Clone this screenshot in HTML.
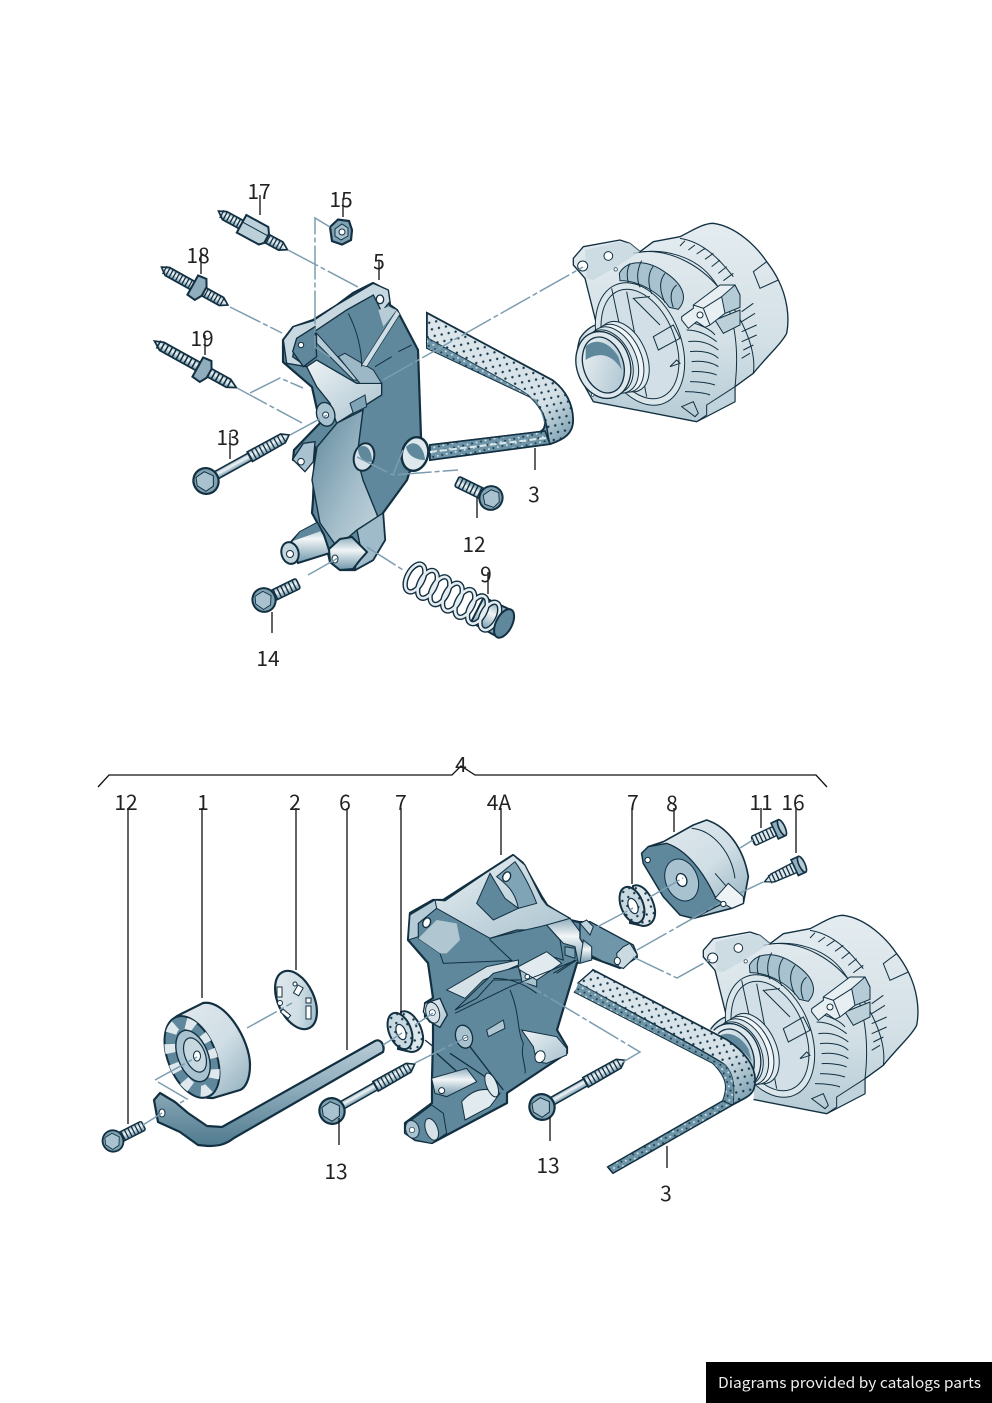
<!DOCTYPE html>
<html><head><meta charset="utf-8"><title>Diagram</title>
<style>
html,body{margin:0;padding:0;background:#fff}
svg{display:block}
.lb{font-family:"Noto Sans CJK JP","Liberation Sans",sans-serif;font-size:21px;fill:#222;text-anchor:middle}
.k{stroke:#111;stroke-width:1.3;fill:none}
.l{stroke:#7c9db0;stroke-width:1.5;fill:none;stroke-dasharray:34 3 5 3}
</style></head><body>
<svg xmlns="http://www.w3.org/2000/svg" width="992" height="1403" viewBox="0 0 992 1403">
<defs>
<linearGradient id="sh" x1="0" y1="0" x2="0" y2="1"><stop offset="0" stop-color="#8fadbc"/><stop offset=".4" stop-color="#f2f6f7"/><stop offset="1" stop-color="#6f96a9"/></linearGradient>
<linearGradient id="lg" x1="0" y1="0" x2="1" y2="1"><stop offset="0" stop-color="#eef3f5"/><stop offset="1" stop-color="#a9c2cf"/></linearGradient>
<linearGradient id="alt" x1="0" y1="0" x2="0" y2="1"><stop offset="0" stop-color="#e4ecf0"/><stop offset=".6" stop-color="#d3e0e6"/><stop offset="1" stop-color="#b6cbd5"/></linearGradient>
<linearGradient id="md" x1="0" y1="0" x2="1" y2="1"><stop offset="0" stop-color="#5f889c"/><stop offset=".6" stop-color="#a3bdca"/><stop offset="1" stop-color="#c6d6de"/></linearGradient>
<linearGradient id="pl" x1="0" y1="0" x2="1" y2="1"><stop offset="0" stop-color="#e3ebef"/><stop offset=".55" stop-color="#d0dee5"/><stop offset="1" stop-color="#8eaebd"/></linearGradient>
<linearGradient id="rod" x1="0" y1="0" x2="0" y2="1"><stop offset="0" stop-color="#b9cdd7"/><stop offset=".45" stop-color="#8fadbc"/><stop offset="1" stop-color="#4f7a8e"/></linearGradient>
<linearGradient id="bl" x1="0" y1="0" x2="1" y2="1"><stop offset="0" stop-color="#dde7ec"/><stop offset=".75" stop-color="#d5e1e7"/><stop offset="1" stop-color="#6e95a8"/></linearGradient>
<pattern id="dots" width="11" height="9" patternUnits="userSpaceOnUse" patternTransform="rotate(28)"><circle cx="2.5" cy="2.5" r="1.2" fill="#16384a"/><circle cx="8" cy="7" r="1.2" fill="#16384a"/></pattern>
<pattern id="dots2" width="7" height="6" patternUnits="userSpaceOnUse" patternTransform="rotate(28)"><rect width="7" height="6" fill="#6c93a6"/><circle cx="2" cy="2" r="1" fill="#173b4d"/><circle cx="5.5" cy="5" r="1" fill="#d6e2e8"/></pattern>

<g id="hex">
<ellipse cx="0" cy="0" rx="12.5" ry="13" fill="#7fa2b3" stroke="#123041" stroke-width="2.2"/>
<polygon points="-7,-8 3,-9 9,-1 4,8 -5,9 -10,0" fill="#a9c2cf" stroke="#123041" stroke-width="1"/>
</g>
<g id="bolt13">
<rect x="8" y="-4" width="44" height="8" fill="url(#sh)" stroke="#123041" stroke-width="1.6"/>
<polygon points="50,-5.5 88,-5 95,0 88,5 50,5.5" fill="url(#sh)" stroke="#123041" stroke-width="1.6"/>
<line x1="50" y1="0" x2="90" y2="0" stroke="#123041" stroke-width="10" stroke-dasharray="1.3 2.9"/>
<use href="#hex"/>
</g>
<g id="boltS">
<rect x="8" y="-5.5" width="30" height="11" rx="2" fill="url(#sh)" stroke="#123041" stroke-width="1.6"/>
<line x1="12" y1="0" x2="38" y2="0" stroke="#123041" stroke-width="10.5" stroke-dasharray="1.4 2.8"/>
<use href="#hex" transform="scale(.92)"/>
</g>
<g id="stud">
<polygon points="0,-1 8,-4.6 76,-4.6 84,0 76,4.6 8,4.6" fill="url(#sh)" stroke="#123041" stroke-width="1.7"/>
<line x1="4" y1="0" x2="80" y2="0" stroke="#123041" stroke-width="9" stroke-dasharray="1.4 2.6"/>
</g>
<g id="ring">
<path d="M-3,-20 C6,-24 17,-10 19,4 C20,15 14,20 7,20 L-6,17 Z" fill="#dce6eb" stroke="#123041" stroke-width="2"/>
<path d="M-3,-20 C6,-24 17,-10 19,4 C20,15 14,20 7,20 L-6,17 Z" fill="url(#dots)"/>
<ellipse cx="-4" cy="-1" rx="11" ry="19" transform="rotate(-22 -4 -1)" fill="#c8d8e0" stroke="#123041" stroke-width="2"/>
<ellipse cx="-4" cy="-1" rx="11" ry="19" transform="rotate(-22 -4 -1)" fill="url(#dots)"/>
<ellipse cx="-3" cy="0" rx="4.5" ry="8" transform="rotate(-22 -3 0)" fill="#fff" stroke="#123041" stroke-width="1.2"/>
</g>

<g id="alternator" transform="translate(420,210) scale(.33333)">
<path d="M460 145 L490 110 L600 90 L630 100 L660 125 L700 95 L780 80 C820 60 850 40 880 40 C950 50 1010 110 1040 155 C1060 180 1075 210 1075 210 C1100 260 1110 320 1100 370 C1085 400 1040 440 1000 490 L945 530 L945 575 L830 635 L520 575 L495 530 C470 480 465 430 480 385 C495 360 520 345 530 345 L495 205 L460 165 Z" fill="url(#alt)" stroke="#123041" stroke-width="4" stroke-linejoin="round"/>
<path d="M1040 155 L1000 185 L1020 235 L1075 210" fill="none" stroke="#123041" stroke-width="3"/>
<path d="M670 125 C760 120 850 170 910 250 C970 330 1010 420 1000 490" fill="none" stroke="#123041" stroke-width="3"/>
<path d="M640 130 C730 110 830 140 880 210 C940 290 960 400 945 530" fill="none" stroke="#123041" stroke-width="3"/>
<path d="M780 85 C850 95 900 150 940 200 M920 170 L895 190 M900 150 L875 170 M880 130 L855 148 M855 115 L830 132 M825 105 L805 120 M795 92 L780 108 M940 190 L910 212 M1005 310 L965 335 M1010 345 L965 365 M1010 375 L965 395 M1000 405 L970 420 M990 430 L965 445 M1000 280 L965 305" fill="none" stroke="#123041" stroke-width="3"/>
<ellipse cx="660" cy="402" rx="122" ry="192" transform="rotate(-22 660 402)" fill="#dbe6eb" stroke="#123041" stroke-width="3"/>
<path d="M598 190 C620 150 680 145 740 190 C790 225 805 265 775 298 L748 292 C720 250 660 212 600 212 Z" fill="#a8c2cf" stroke="#123041" stroke-width="3"/>
<path d="M630 160 C620 180 620 200 625 218 M665 152 C650 180 650 210 660 232 M700 168 C680 195 685 225 695 252 M735 190 C715 215 720 245 735 278 M770 225 C750 240 750 265 760 292" fill="none" stroke="#123041" stroke-width="3"/>
<ellipse cx="660" cy="402" rx="105" ry="172" transform="rotate(-22 660 402)" fill="#d2dfe6" stroke="#123041" stroke-width="3"/>
<path d="M575 235 L640 540 M620 245 L680 560 M700 380 L760 345 L780 385 L715 420 Z M690 260 L640 265 L720 345 M770 450 L750 470 L780 460 Z" fill="none" stroke="#123041" stroke-width="3"/>
<path d="M790 330 C830 340 870 355 885 375 M800 360 C840 360 870 380 890 395 M805 395 C840 390 870 400 895 420 M810 425 C850 420 880 430 895 445 M815 455 C850 450 880 460 895 470 M815 485 C850 483 880 490 890 495 M810 515 C850 515 870 520 885 525 M795 545 C830 545 860 550 870 555" fill="none" stroke="#123041" stroke-width="3"/>
<path d="M885 330 L960 300 L960 345 L910 370 Z" fill="#bcd0da" stroke="#123041" stroke-width="3"/>
<path d="M785 320 L820 295 L820 285 L900 225 L945 225 L960 255 L960 292 L915 310 L870 345 L855 352 L830 335 L805 355 L785 330 Z" fill="#e8eff2" stroke="#123041" stroke-width="3"/>
<path d="M905 260 L915 310 L960 292 L960 255 L945 225 Z" fill="#b5cbd6" stroke="#123041" stroke-width="3"/>
<path d="M820 285 L850 295 L870 345 M850 295 L905 260" fill="none" stroke="#123041" stroke-width="3"/>
<circle cx="840" cy="315" r="9" fill="#fff" stroke="#123041" stroke-width="3"/>
<path d="M860 585 L945 530 L945 575 L830 635 L860 615 Z" fill="#c1d3dc" stroke="#123041" stroke-width="3"/>
<path d="M785 590 L820 575 L835 610 L825 620 Z" fill="none" stroke="#123041" stroke-width="3"/>
<ellipse cx="610" cy="440" rx="68" ry="112" transform="rotate(-25 610 440)" fill="#e1eaee" stroke="#123041" stroke-width="3"/>
<ellipse cx="595" cy="445" rx="68" ry="108" transform="rotate(-25 595 445)" fill="#f1f5f7" stroke="#123041" stroke-width="3"/>
<ellipse cx="580" cy="450" rx="68" ry="105" transform="rotate(-25 580 450)" fill="#dbe6eb" stroke="#123041" stroke-width="3"/>
<ellipse cx="565" cy="455" rx="68" ry="100" transform="rotate(-25 565 455)" fill="#ecf1f4" stroke="#123041" stroke-width="3"/>
<ellipse cx="550" cy="465" rx="80" ry="102" transform="rotate(-18 550 465)" fill="#dfe8ed" stroke="#123041" stroke-width="4"/>
<ellipse cx="550" cy="465" rx="60" ry="86" transform="rotate(-18 550 465)" fill="url(#lg)" stroke="#123041" stroke-width="4"/>
<path d="M497 410 C520 385 565 390 595 440 L606 480 C575 430 535 425 497 450 Z" fill="#5f889c"/>
<path d="M495 120 L600 95 L630 100 L660 125 L590 170 L520 210 L500 205" fill="#c7d7df" fill-opacity=".75"/>
<circle cx="488" cy="168" r="15" fill="#fff" stroke="#123041" stroke-width="3"/>
<circle cx="565" cy="138" r="13" fill="#fff" stroke="#123041" stroke-width="3"/>
<circle cx="587" cy="178" r="5" fill="#fff" stroke="#123041" stroke-width="2"/>
<circle cx="518" cy="555" r="4" fill="#fff" stroke="#123041" stroke-width="2"/>
</g>
</defs>

<rect width="992" height="1403" fill="#fff"/>

<!-- ============ TOP ASSEMBLY ============ -->
<path d="M427 313 L552 380 C566 390 573 405 573 420 C573 433 565 439 550 444 L430 460 L430 445 L540 432 C548 428 546 418 537 400 L427 348 Z" fill="#7fa4b6" stroke="#123041" stroke-width="2"/>
<path d="M427 313 L552 380 C566 390 573 405 573 420 C573 433 565 439 550 444 C547 436 548 425 543 414 C537 402 530 396 520 390 L427 338 Z" fill="url(#bl)" stroke="#123041" stroke-width="1.6"/>
<path d="M427 313 L552 380 C566 390 573 405 573 420 C573 433 565 439 550 444 C547 436 548 425 543 414 C537 402 530 396 520 390 L427 338 Z" fill="url(#dots)"/>
<path d="M427 338 L520 390 C530 396 537 402 543 414 L546 428 L537 400 L427 348 Z" fill="url(#dots2)"/>
<path d="M430 445 L545 431 L550 444 L430 460 Z" fill="url(#dots2)" stroke="#123041" stroke-width="1.5"/>
<line x1="430" y1="452" x2="546" y2="438" stroke="#dbe6eb" stroke-width="2" stroke-dasharray="7 3"/>

<use href="#alternator"/>

<path d="M373 283 L388 291 L390 305 L397 310 L418 350 L421 437 L407 480 L383 513 L385 540 L373 560 L355 570 L340 570 L330 562 L324 535 L312 513 L313 500 L315 447 L303 462 L293 460 L294 450 L320 423 L312 387 L283 362 L283 340 L293 327 L313 320 L337 305 L353 293 Z" fill="#5f889c" stroke="#123041" stroke-width="2.2" stroke-linejoin="round"/>
<g transform="translate(140,170) scale(.33333)">
<path d="M430 510 L460 470 L520 452 L590 405 L700 340 L745 360 L750 395 L725 425 L700 375 L620 420 L530 480 L470 510 L458 560 L500 590 L440 580 Z" fill="#c8d8e0" stroke="#123041" stroke-width="4"/>
<path d="M458 545 L470 505 L525 470 L530 560 L490 590 Z" fill="#5f889c" stroke="#123041" stroke-width="4"/>
<circle cx="483" cy="525" r="8" fill="#fff" stroke="#123041" stroke-width="3"/>
<path d="M500 590 L530 570 L650 640 L725 640 L725 675 L590 760 L570 700 L530 650 Z" fill="url(#lg)" stroke="#123041" stroke-width="4"/>
<path d="M530 490 L655 630 L640 630 L530 520 Z" fill="#b7ccd6" stroke="#123041" stroke-width="3"/>
<path d="M595 560 L615 550 L700 600 L725 640 L660 640 Z" fill="#9cb8c6" stroke="#123041" stroke-width="3"/>
<path d="M665 585 L770 420 L780 432 L680 590 Z" fill="#cfdde4" stroke="#123041" stroke-width="2"/>
<path d="M715 420 L745 410 L770 420 L730 470 Z" fill="#b7ccd6"/>
<ellipse cx="720" cy="388" rx="11" ry="13" fill="#fff" stroke="#123041" stroke-width="4"/>
<path d="M630 700 L675 675 L680 710 L640 730 Z" fill="#7fa4b6" stroke="#123041" stroke-width="3"/>
<path d="M625 430 C650 480 665 530 665 590 M705 590 L755 560 M775 545 L815 525" fill="none" stroke="#123041" stroke-width="3"/>
<ellipse cx="557" cy="733" rx="27" ry="36" transform="rotate(-15 557 733)" fill="#a9c2cf" stroke="#123041" stroke-width="4"/>
<circle cx="557" cy="735" r="9" fill="#fff" stroke="#123041" stroke-width="3"/>
<path d="M458 868 L490 820 L525 815 L520 875 L495 905 Z" fill="#a9c2cf" stroke="#123041" stroke-width="4"/>
<circle cx="483" cy="875" r="10" fill="#fff" stroke="#123041" stroke-width="3"/>
</g>
<path d="M317 447 L337 423 L363 410 L357 457 L363 480 L378 517 L357 530 L337 547 L320 523 L312 480 Z" fill="url(#md)" stroke="#123041" stroke-width="1.4"/>
<path d="M357 530 L383 513 L385 540 L373 560 L355 570 L360 545 Z" fill="#9fbac8" stroke="#123041" stroke-width="1.4"/>
<path d="M290 543 L300 532 L317 523 L324 535 L330 553 L298 563 Z" fill="url(#sh)" stroke="#123041" stroke-width="2"/>
<path d="M293 541 L300 532 L317 523 L321 531 Z" fill="#5f889c"/>
<ellipse cx="290" cy="553" rx="8.5" ry="11" transform="rotate(-15 290 553)" fill="#c3d5dd" stroke="#123041" stroke-width="2"/>
<circle cx="290" cy="554" r="3.5" fill="#fff" stroke="#123041"/>
<path d="M340 539 L352 537 L367 552 L360 560 L353 569 L340 570 L330 562 L329 549 Z" fill="url(#sh)" stroke="#123041" stroke-width="2"/>
<ellipse cx="335" cy="559" rx="3" ry="4" fill="#fff" stroke="#123041"/>
<ellipse cx="364" cy="457" rx="10" ry="14" transform="rotate(15 364 457)" fill="#d5e1e7" stroke="#123041" stroke-width="2"/>
<path d="M358 448 C366 442 372 450 372 462 C364 462 358 458 358 448Z" fill="#5f889c"/>
<ellipse cx="415" cy="454" rx="13" ry="17" transform="rotate(15 415 454)" fill="#dfe8ed" stroke="#123041" stroke-width="2.4"/>
<path d="M406 447 C414 438 424 446 425 460 C416 460 408 456 406 447Z" fill="#5f889c"/>

<use href="#bolt13" transform="translate(206,481) rotate(-29)"/>
<use href="#boltS" transform="translate(491,498) rotate(206)"/>
<use href="#boltS" transform="translate(264,600) rotate(-26)"/>
<use href="#stud" transform="translate(218,212) rotate(28.5) scale(.94,1)"/>
<g transform="translate(253,230) rotate(28.5)"><polygon points="-13,-10 12,-10 16,-4 16,6 12,10 -13,10" fill="#bcd0da" stroke="#123041" stroke-width="2"/><line x1="-13" y1="-2" x2="16" y2="-2" stroke="#123041"/></g>
<use href="#stud" transform="translate(161,268) rotate(29) scale(.91,1)"/>
<use href="#stud" transform="translate(154,342) rotate(29) scale(1.12,1)"/>
<g transform="translate(198,288) rotate(29)"><polygon points="-6,-11 3,-12 7,-5 7,5 3,12 -6,11" fill="#8fadbc" stroke="#123041" stroke-width="2"/></g>
<g transform="translate(203,370) rotate(29)"><polygon points="-6,-11 3,-12 7,-5 7,5 3,12 -6,11" fill="#8fadbc" stroke="#123041" stroke-width="2"/></g>
<g transform="translate(341,232)"><polygon points="-11,-5 -3,-12.5 8,-11 11,-2 10,8 1,12.5 -9,9" fill="#7fa2b3" stroke="#123041" stroke-width="2.2"/><polygon points="-6,-3 1,-8 7,-4 7,4 0,8 -6,4" fill="#a9c2cf" stroke="#123041"/><circle cx="1" r="3" fill="#fff" stroke="#123041"/></g>

<g transform="translate(415,578) rotate(27)">
<path d="M70 -14 L100 -15 L100 15 L70 14 Z" fill="url(#sh)" stroke="#123041" stroke-width="2"/>
<g fill="none" stroke="#123041" stroke-width="5.4"><ellipse cx="0" cy="0" rx="8" ry="15"/><ellipse cx="14" cy="0" rx="8" ry="15"/><ellipse cx="28" cy="0" rx="8" ry="15"/><ellipse cx="42" cy="0" rx="8" ry="15"/><ellipse cx="56" cy="0" rx="8" ry="15"/><ellipse cx="70" cy="0" rx="8" ry="15"/><ellipse cx="84" cy="0" rx="8" ry="15"/></g>
<g fill="none" stroke="#e6edf1" stroke-width="2.6"><ellipse cx="0" cy="0" rx="8" ry="15"/><ellipse cx="14" cy="0" rx="8" ry="15"/><ellipse cx="28" cy="0" rx="8" ry="15"/><ellipse cx="42" cy="0" rx="8" ry="15"/><ellipse cx="56" cy="0" rx="8" ry="15"/><ellipse cx="70" cy="0" rx="8" ry="15"/><ellipse cx="84" cy="0" rx="8" ry="15"/></g>
<ellipse cx="100" cy="0" rx="8" ry="15.5" fill="#5f889c" stroke="#123041" stroke-width="2"/>
</g>

<g class="l">
<polyline points="288,250 358,287"/><polyline points="330,227 315,218 315,347 330,357"/><polyline points="230,307 282,333"/><polyline points="237,388 302,423"/><polyline points="290,435 327,415"/><polyline points="250,393 280,378 303,388"/><polyline points="383,380 583,267"/><polyline points="357,457 393,475 458,470"/><polyline points="403,450 393,475"/><polyline points="308,575 338,558"/><polyline points="367,547 403,570"/>
</g>
<g class="k">
<line x1="260" y1="195" x2="260" y2="215"/><line x1="343" y1="198" x2="343" y2="217"/><line x1="379" y1="260" x2="379" y2="280"/><line x1="201" y1="250" x2="201" y2="274"/><line x1="205" y1="335" x2="205" y2="355"/><line x1="230" y1="433" x2="230" y2="459"/><line x1="477" y1="498" x2="477" y2="518"/><line x1="272" y1="612" x2="272" y2="633"/><line x1="488" y1="572" x2="488" y2="594"/><line x1="535" y1="448" x2="535" y2="470"/>
</g>

<!-- ============ BOTTOM ASSEMBLY ============ -->
<polyline class="k" points="98,787 109,775 452,775 461,766 475,775 816,775 827,787"/>

<use href="#alternator" transform="translate(130,692)"/>
<polygon points="690,1025 713,1030 727,1040 747,1057 755,1077 753,1107 690,1115" fill="#fff"/>
<path d="M593 970 L727 1040 C745 1052 755 1066 755 1080 C755 1090 752 1094 745 1098 L732 1105 L613 1173 L608 1167 L723 1101 C728 1088 728 1078 713 1063 L575 992 Z" fill="#5f889c" stroke="#123041" stroke-width="2"/>
<path d="M593 970 L727 1040 C745 1052 755 1066 755 1080 C755 1090 752 1094 745 1098 L733 1104 C734 1090 735 1075 725 1065 C715 1056 590 990 578 983 Z" fill="url(#bl)" stroke="#123041" stroke-width="1.4"/>
<path d="M593 970 L727 1040 C745 1052 755 1066 755 1080 C755 1090 752 1094 745 1098 L733 1104 C734 1090 735 1075 725 1065 C715 1056 590 990 578 983 Z" fill="url(#dots)"/>
<path d="M578 983 L725 1065 C735 1075 734 1090 733 1104 L723 1101 C728 1088 728 1078 713 1063 L575 992 Z" fill="url(#dots2)"/>
<path d="M608 1167 L723 1101 L732 1105 L613 1173 Z" fill="url(#dots2)" stroke="#123041"/>

<path d="M513 855 L523 863 L542 897 L547 905 L570 920 L583 923 L633 947 L637 957 L620 968 L590 957 L577 963 L557 1030 L567 1047 L567 1053 L507 1093 L507 1103 L432 1143 L415 1140 L405 1133 L405 1123 L432 1103 L432 1078 L433 1040 L433 1022 L425 1017 L425 1003 L433 998 L428 963 L408 940 L410 913 L433 900 L443 900 L485 873 Z" fill="#5f889c" stroke="#123041" stroke-width="2.2" stroke-linejoin="round"/>
<g transform="translate(390,840) scale(.33333)">
<path d="M60 225 L135 180 L165 182 L285 100 L370 45 L405 75 L455 175 L470 195 L540 235 L470 270 L380 270 L300 295 Z" fill="url(#lg)" stroke="#123041" stroke-width="4"/>
<path d="M260 190 L300 100 L345 175 L385 205 L310 240 Z" fill="#5f889c" stroke="#123041" stroke-width="3"/>
<path d="M320 110 L375 65 C400 100 425 150 440 190 L385 205 C375 150 345 130 320 110Z" fill="#7fa4b6" stroke="#123041" stroke-width="3"/>
<ellipse cx="350" cy="110" rx="11" ry="15" transform="rotate(25 350 110)" fill="#fff" stroke="#123041" stroke-width="4"/>
<path d="M60 225 L135 180 L140 205 L85 250 L85 290 L55 300 Z" fill="#b5cbd6" stroke="#123041" stroke-width="3"/>
<path d="M85 250 L140 205 L300 295 L400 360 L160 370 L150 340 L85 295 Z" fill="#5f889c" stroke="#123041" stroke-width="3"/>
<path d="M85 295 L140 240 L200 250 L210 300 L170 340 L150 340 Z" fill="#b0c7d2"/>
<ellipse cx="110" cy="248" rx="11" ry="15" transform="rotate(25 110 248)" fill="#fff" stroke="#123041" stroke-width="4"/>
<path d="M300 295 C360 280 430 265 470 255 L510 300 L520 360 L470 345 L390 385 L300 300 Z" fill="#5f889c" stroke="#123041" stroke-width="3"/>
<path d="M470 255 L540 235 L570 275 L605 320 L605 360 L565 370 L555 320 L520 310 Z" fill="url(#sh)" stroke="#123041" stroke-width="3"/>
<path d="M525 320 L555 325 L555 355 L525 345 Z" fill="#7fa4b6" stroke="#123041" stroke-width="3"/>
<path d="M385 380 L470 335 L515 370 L440 420 L395 425 Z" fill="#e1eaee" stroke="#123041" stroke-width="3"/>
<path d="M390 390 L440 420 L440 440 L395 425 Z" fill="#a9c2cf" stroke="#123041" stroke-width="3"/>
<circle cx="412" cy="410" r="7" fill="#fff" stroke="#123041" stroke-width="3"/>
<path d="M170 450 L290 380 L385 360 L385 375 L280 420 L225 475 Z" fill="#d5e1e7" stroke="#123041" stroke-width="3"/>
<path d="M195 510 L310 400 L385 380 L395 420 L310 420 L260 475 Z" fill="#5f889c" stroke="#123041" stroke-width="3"/>
<path d="M310 415 C360 415 400 430 440 460 M195 520 L360 440 L560 360 L500 400 M360 450 C390 520 380 570 400 610 C390 650 410 680 405 700 M490 400 L555 360" fill="none" stroke="#123041" stroke-width="3"/>
<path d="M290 570 L340 540 L345 565 L295 590 Z" fill="#b0c7d2" stroke="#123041" stroke-width="3"/>
<path d="M430 620 L395 570 L500 590 L530 625 L530 645 L470 670 L440 665 Z" fill="url(#lg)" stroke="#123041" stroke-width="3"/>
<ellipse cx="450" cy="650" rx="15" ry="18" transform="rotate(20 450 650)" fill="#fff" stroke="#123041" stroke-width="3"/>
<path d="M105 490 L150 475 L172 525 L150 562 L118 545 L100 515 Z" fill="url(#lg)" stroke="#123041" stroke-width="4"/>
<ellipse cx="128" cy="518" rx="20" ry="32" transform="rotate(-15 128 518)" fill="#d5e1e7" stroke="#123041" stroke-width="3"/>
<circle cx="127" cy="518" r="9" fill="#fff" stroke="#123041" stroke-width="2"/>
<ellipse cx="222" cy="590" rx="25" ry="35" transform="rotate(-15 222 590)" fill="#a9c2cf" stroke="#123041" stroke-width="4"/>
<circle cx="226" cy="594" r="8" fill="#fff" stroke="#123041" stroke-width="2"/>
<path d="M140 640 L240 730 M180 640 L300 720 M240 620 L340 750 M105 600 L130 620 L130 640" fill="none" stroke="#123041" stroke-width="4"/>
<path d="M125 715 L230 685 L260 725 L170 770 L135 760 Z" fill="url(#sh)" stroke="#123041" stroke-width="3"/>
<circle cx="155" cy="752" r="9" fill="#fff" stroke="#123041" stroke-width="3"/>
<path d="M215 785 C250 745 290 740 330 760 L300 800 L225 840 Z" fill="#e1eaee" stroke="#123041" stroke-width="3"/>
<ellipse cx="305" cy="735" rx="16" ry="38" transform="rotate(-22 305 735)" fill="#dfe8ed" stroke="#123041" stroke-width="3"/>
<path d="M45 855 L125 795 L160 820 L170 880 L125 910 L75 900 L45 880 Z" fill="#5f889c" stroke="#123041" stroke-width="3"/>
<ellipse cx="67" cy="868" rx="20" ry="27" transform="rotate(-15 67 868)" fill="#a9c2cf" stroke="#123041" stroke-width="3"/>
<circle cx="66" cy="870" r="8" fill="#fff" stroke="#123041" stroke-width="2"/>
<ellipse cx="125" cy="868" rx="18" ry="34" transform="rotate(-20 125 868)" fill="#d5e1e7" stroke="#123041" stroke-width="3"/>
<path d="M570 245 L600 245 L730 315 L742 345 L700 385 L640 365 L600 345 L570 295 Z" fill="#6f96a9" stroke="#123041" stroke-width="4"/>
<path d="M570 250 L590 240 L610 260 L600 285 Z" fill="#c1d3dc" stroke="#123041" stroke-width="3"/>
<path d="M580 300 L605 320 L605 360 L570 370 Z" fill="url(#sh)" stroke="#123041" stroke-width="3"/>
<path d="M700 320 L720 310 L742 345 L700 385 L685 380 L680 340 Z" fill="#cbdae1" stroke="#123041" stroke-width="3"/>
<ellipse cx="682" cy="363" rx="9" ry="11" fill="#fff" stroke="#123041" stroke-width="3"/>
</g>

<path d="M165 1040 C166 1025 172 1018 181 1014 L203 1003 C225 999 250 1040 250 1065 C250 1080 245 1088 240 1090 L213 1098 C190 1100 165 1065 165 1040 Z" fill="url(#pl)" stroke="#123041" stroke-width="2.2"/>
<ellipse cx="192" cy="1057" rx="24" ry="43" transform="rotate(-22 192 1057)" fill="#5f889c" stroke="#123041" stroke-width="2"/>
<g stroke="#dfe8ed" stroke-width="11" stroke-dasharray="9 11" fill="none"><ellipse cx="192" cy="1057" rx="19" ry="36" transform="rotate(-22 192 1057)"/></g>
<ellipse cx="193" cy="1056" rx="15" ry="27" transform="rotate(-22 193 1056)" fill="#a9c2cf" stroke="#123041" stroke-width="1.4"/>
<ellipse cx="195" cy="1055" rx="10" ry="18" transform="rotate(-22 195 1055)" fill="#c8d8e0" stroke="#123041" stroke-width="1.2"/>
<ellipse cx="197" cy="1056" rx="3.5" ry="5" fill="#fff" stroke="#123041"/>

<ellipse cx="296" cy="1000" rx="18" ry="31" transform="rotate(-25 296 1000)" fill="url(#pl)" stroke="#123041" stroke-width="2.2"/>
<g fill="#fff" stroke="#123041" stroke-width="1"><rect x="277" y="987" width="5" height="10"/><rect x="298" y="985" width="6" height="9" transform="rotate(30 298 985)"/><rect x="306" y="998" width="5" height="5"/><rect x="306" y="1006" width="5" height="13"/><rect x="283" y="1009" width="10" height="4" transform="rotate(40 283 1009)"/><circle cx="280" cy="1003" r="2.5"/><circle cx="295" cy="984" r="2"/></g>

<path d="M160 1093 L175 1102 L188 1113 L207 1126 L222 1127 L375 1041 C381 1038 385 1046 383 1052 L234 1138 C225 1145 218 1146 208 1146 L198 1145 L180 1132 L158 1122 L154 1100 Z" fill="url(#rod)" stroke="#123041" stroke-width="2.2" stroke-linejoin="round"/>
<ellipse cx="162" cy="1113" rx="3" ry="4" fill="#fff" stroke="#123041"/>

<use href="#ring" transform="translate(404,1032)"/>
<use href="#ring" transform="translate(636,906)"/>

<use href="#boltS" transform="translate(113,1141) rotate(-27) scale(.9)"/>
<use href="#bolt13" transform="translate(332,1111) rotate(-29.5)"/>
<use href="#bolt13" transform="translate(542,1107) rotate(-29.5)"/>

<g transform="translate(600,800) scale(.33333)">
<path d="M125 160 L145 140 L190 125 L280 75 L320 60 C380 80 430 140 445 230 L430 310 L395 325 L280 355 L240 345 L190 290 L130 190 Z" fill="url(#pl)" stroke="#123041" stroke-width="5" stroke-linejoin="round"/>
<path d="M275 85 C340 90 395 160 405 235 M345 220 L380 260 L430 290" fill="none" stroke="#123041" stroke-width="3"/>
<path d="M125 160 L145 140 L200 130 C260 150 310 215 345 290 L380 305 L280 355 L240 345 L190 290 L130 190 Z" fill="#5f889c" stroke="#123041" stroke-width="4"/>
<ellipse cx="245" cy="240" rx="48" ry="65" transform="rotate(-22 245 240)" fill="#a9c2cf" stroke="#123041" stroke-width="3"/>
<ellipse cx="245" cy="240" rx="15" ry="20" transform="rotate(-22 245 240)" fill="#fff" stroke="#123041" stroke-width="4"/>
<circle cx="143" cy="180" r="8" fill="#fff" stroke="#123041" stroke-width="3"/>
<path d="M345 295 L385 250 L430 290 L430 310 L395 325 Z" fill="#eef3f5" stroke="#123041" stroke-width="3"/>
<circle cx="370" cy="312" r="8" fill="#fff" stroke="#123041" stroke-width="3"/>
<g transform="translate(535,88) rotate(155)"><rect x="12" y="-15" width="72" height="30" rx="6" fill="#dde7ec" stroke="#123041" stroke-width="4"/><line x1="20" x2="84" y1="0" y2="0" stroke="#123041" stroke-width="30" stroke-dasharray="4 8"/><path d="M-12 -26 L12 -26 L12 26 L-12 26 Z" fill="#8fadbc" stroke="#123041" stroke-width="5"/><ellipse cx="-12" cy="0" rx="9" ry="26" fill="#b5cbd6" stroke="#123041" stroke-width="5"/></g>
<g transform="translate(595,198) rotate(155)"><polygon points="10,-16 85,-13 112,0 85,13 10,16" fill="#dde7ec" stroke="#123041" stroke-width="4"/><line x1="20" x2="95" y1="0" y2="0" stroke="#123041" stroke-width="28" stroke-dasharray="4 8"/><path d="M-12 -26 L12 -26 L12 26 L-12 26 Z" fill="#8fadbc" stroke="#123041" stroke-width="5"/><ellipse cx="-12" cy="0" rx="9" ry="26" fill="#b5cbd6" stroke="#123041" stroke-width="5"/></g>
</g>

<g class="l">
<polyline points="143,1125 162,1113"/><polyline points="155,1080 197,1057"/><polyline points="158,1082 187,1099 180,1103"/><polyline points="247,1028 292,1003"/><polyline points="383,1045 402,1033"/><polyline points="415,1025 433,1013"/><polyline points="415,1063 467,1037"/><polyline points="623,1062 640,1052 523,982"/><polyline points="597,927 633,908"/><polyline points="650,897 683,878"/><polyline points="637,950 720,903"/><polyline points="740,893 763,882"/><polyline points="740,848 753,840"/><polyline points="633,957 677,978 713,958"/>
</g>
<g class="k">
<line x1="128" y1="808" x2="128" y2="1124"/><line x1="202" y1="808" x2="202" y2="998"/><line x1="296" y1="808" x2="296" y2="970"/><line x1="347" y1="808" x2="347" y2="1050"/><line x1="401" y1="808" x2="401" y2="1013"/><line x1="501" y1="808" x2="501" y2="855"/><line x1="632" y1="808" x2="632" y2="884"/><line x1="674" y1="808" x2="674" y2="832"/><line x1="761" y1="808" x2="761" y2="828"/><line x1="796" y1="808" x2="796" y2="853"/><line x1="339" y1="1118" x2="339" y2="1145"/><line x1="550" y1="1117" x2="550" y2="1141"/><line x1="667" y1="1146" x2="667" y2="1168"/>
</g>

<g class="lb">
<text x="259" y="199">17</text><text x="341" y="207">15</text><text x="198" y="263">18</text><text x="379" y="269">5</text><text x="202" y="346">19</text><text x="228" y="445">13</text><text x="534" y="502">3</text><text x="474" y="552">12</text><text x="486" y="582">9</text><text x="268" y="666">14</text>
<text x="461" y="772">4</text><text x="126" y="810">12</text><text x="203" y="810">1</text><text x="295" y="810">2</text><text x="345" y="810">6</text><text x="401" y="810">7</text><text x="499" y="810">4A</text><text x="633" y="810">7</text><text x="672" y="811">8</text><text x="761" y="810">11</text><text x="793" y="810">16</text>
<text x="336" y="1179">13</text><text x="548" y="1173">13</text><text x="666" y="1201">3</text>
</g>

<rect x="706" y="1362" width="286" height="41" fill="#000"/>
<text x="718" y="1388" textLength="263" lengthAdjust="spacingAndGlyphs" style="font-family:'Noto Sans CJK JP','Liberation Sans',sans-serif;font-size:15px;fill:#eee">Diagrams provided by catalogs parts</text>
</svg>
</body></html>
